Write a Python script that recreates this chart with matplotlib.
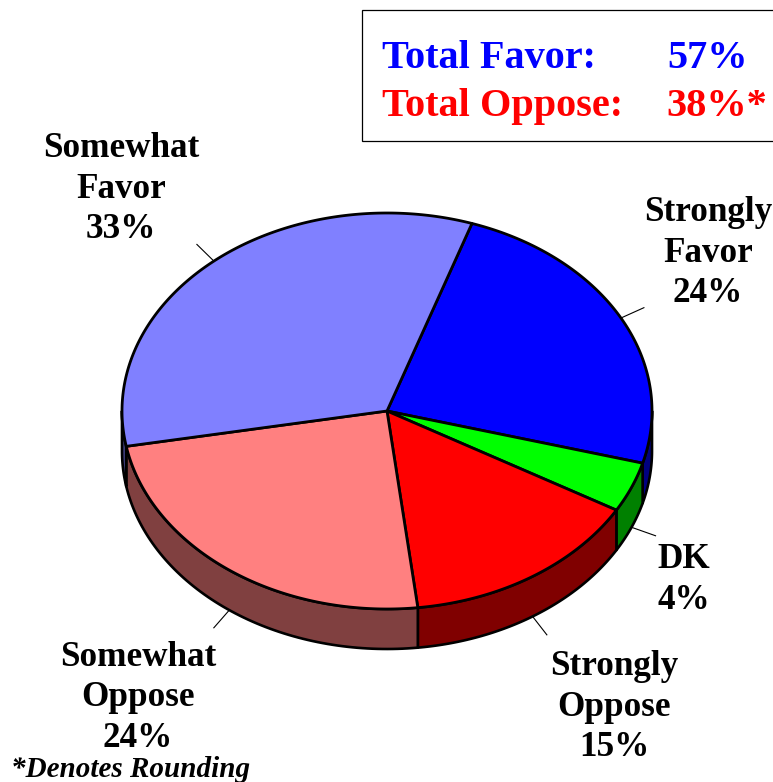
import numpy as np
import matplotlib
matplotlib.use("Agg")
import matplotlib.pyplot as plt
from matplotlib.patches import Polygon, Rectangle

W, H = 773, 782

labels = ["Strongly\nFavor\n24%", "DK\n4%", "Strongly\nOppose\n15%", "Somewhat\nOppose\n24%", "Somewhat\nFavor\n33%"]
values = [24.05, 4.1, 14.8, 24.0, 33.05]
top_colors = ["#0000ff", "#00ff00", "#ff0000", "#ff8080", "#8080ff"]
side_colors = ["#000080", "#008000", "#800000", "#804040", "#404080"]
label_x = [708, 684, 614, 138, 121]
label_y = [253, 580, 707, 698, 189]

# pie geometry in pixels
cx, cy = 387, 411
rx, ry = 265, 198
depth = 40
start = 18.7

plt.rcParams["font.family"] = ["Liberation Serif", "DejaVu Serif"]
fig = plt.figure(figsize=(W / 100, H / 100), dpi=100)
ax = fig.add_axes([0, 0, 1, 1])
ax.set_xlim(0, W)
ax.set_ylim(H, 0)
ax.axis("off")


def rim(a):
    # a in degrees clockwise from the top of the ellipse
    r = np.radians(a)
    return cx + rx * np.sin(r), cy - ry * np.cos(r)


edges = start + np.concatenate([[0], np.cumsum(values)]) * 3.6

# side walls: only the front half (90..270 from top) is visible
for i in range(len(values)):
    a0, a1 = max(edges[i], 90), min(edges[i + 1], 270)
    if a1 <= a0:
        continue
    t = np.linspace(a0, a1, 80)
    x, y = rim(t)
    pts = np.r_[np.c_[x, y], np.c_[x[::-1], y[::-1] + depth]]
    ax.add_patch(Polygon(pts, closed=True, fc=side_colors[i], ec="black", lw=1.9, joinstyle="round"))

# top faces
for i in range(len(values)):
    t = np.linspace(edges[i], edges[i + 1], 150)
    x, y = rim(t)
    pts = np.r_[[[cx, cy]], np.c_[x, y]]
    ax.add_patch(Polygon(pts, closed=True, fc=top_colors[i], ec="black", lw=2.0, joinstyle="round"))

# leader lines
for i in range(len(values)):
    mid = (edges[i] + edges[i + 1]) / 2
    x, y = rim(mid)
    r = np.radians(mid)
    dx, dy = np.sin(r), -np.cos(r)
    if np.cos(r) < 0:
        y = y + depth
    ax.plot([x, x + 26 * dx], [y, y + 22 * dy], color="black", lw=0.8)

for s, x, y in zip(labels, label_x, label_y):
    ax.text(x, y, s, ha="center", va="center", fontsize=25.3, fontweight="bold",
            linespacing=1.29, color="black")

# summary box, right edge runs off the canvas
ax.add_patch(Rectangle((362, 10), 420, 131, fc="white", ec="black", lw=0.9))
ax.text(382, 68, "Total Favor:", color="#0000ff", fontsize=29, fontweight="bold", va="baseline")
ax.text(667, 68, "57%", color="#0000ff", fontsize=29, fontweight="bold", va="baseline")
ax.text(382, 116, "Total Oppose:", color="#ff0000", fontsize=29, fontweight="bold", va="baseline")
ax.text(666, 116, "38%*", color="#ff0000", fontsize=29, fontweight="bold", va="baseline")

ax.text(11, 777, "*Denotes Rounding", fontsize=21, fontweight="bold", fontstyle="italic", va="baseline")

fig.savefig("out.png", dpi=100)
